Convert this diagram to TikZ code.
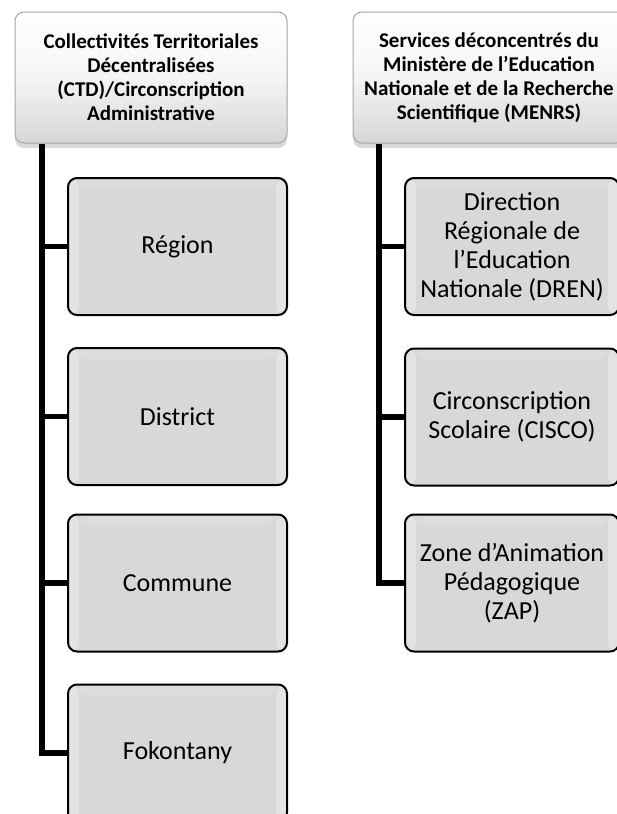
\documentclass[tikz,border=0pt]{standalone}
\usepackage{fontspec}
\setmainfont{Carlito}
\usetikzlibrary{shadows}
\definecolor{boxgray}{HTML}{D8D8D8}
\begin{document}
\begin{tikzpicture}[x=1pt,y=-1pt,
  head/.style={draw=gray!70, line width=1pt, rounded corners=9pt,
    top color=white, bottom color=gray!32, middle color=gray!8,
    drop shadow={shadow xshift=0pt,shadow yshift=-5pt,opacity=0.3},
    minimum width=272pt, minimum height=131pt, inner sep=0pt, align=center,
    font=\fontsize{21}{24}\selectfont\bfseries},
  level/.style={draw=black, line width=2pt, rounded corners=9pt, fill=boxgray,
    minimum width=219pt, minimum height=137pt, inner sep=0pt, align=center,
    font=\fontsize{26}{29}\selectfont,
    path picture={
      \fill[white,opacity=.3] (path picture bounding box.south west) rectangle ([xshift=11pt]path picture bounding box.north west);
      \fill[white,opacity=.3] (path picture bounding box.south east) rectangle ([xshift=-11pt]path picture bounding box.north east);
      \fill[white,opacity=.15] ([xshift=11pt]path picture bounding box.north west) rectangle ([xshift=-11pt,yshift=-11pt]path picture bounding box.north east);
    }},
  link/.style={line width=5.5pt, line join=miter}]
\useasboundingbox (0,0) rectangle (617,814);
\clip (0,0) rectangle (617,814);

% collectivites
\node[head] (ctd) at (151,77.5) {Collectivités Territoriales\\Décentralisées\\(CTD)/Circonscription\\Administrative};
\node[level] (region) at (177.5,246.5) {Région};
\node[level] (district) at (177.5,416.5) {District};
\node[level] (commune) at (177.5,583) {Commune};
\node[level] (fokontany) at (177.5,753) {Fokontany};

% services deconcentres
\node[head] (menrs) at (489,77.5) {Services déconcentrés du\\Ministère de l’Education\\Nationale et de la Recherche\\Scientifique (MENRS)};
\node[level,minimum width=214pt] (dren) at (512,246.5) {Direction\\Régionale de\\l’Education\\Nationale (DREN)};
\node[level,minimum width=214pt] (cisco) at (512,417) {Circonscription\\Scolaire (CISCO)};
\node[level,minimum width=214pt] (zap) at (512,583) {Zone d’Animation\\Pédagogique\\(ZAP)};

\coordinate (lspine) at (42,0);
\coordinate (rspine) at (379,0);

\path[draw,link] (lspine |- ctd.south) |- (fokontany.west);
\foreach \n in {region,district,commune}
  \path[draw,link] (lspine |- \n.west) -- (\n.west);
\path[draw,link] (rspine |- menrs.south) |- (zap.west);
\foreach \n in {dren,cisco}
  \path[draw,link] (rspine |- \n.west) -- (\n.west);
\end{tikzpicture}
\end{document}
